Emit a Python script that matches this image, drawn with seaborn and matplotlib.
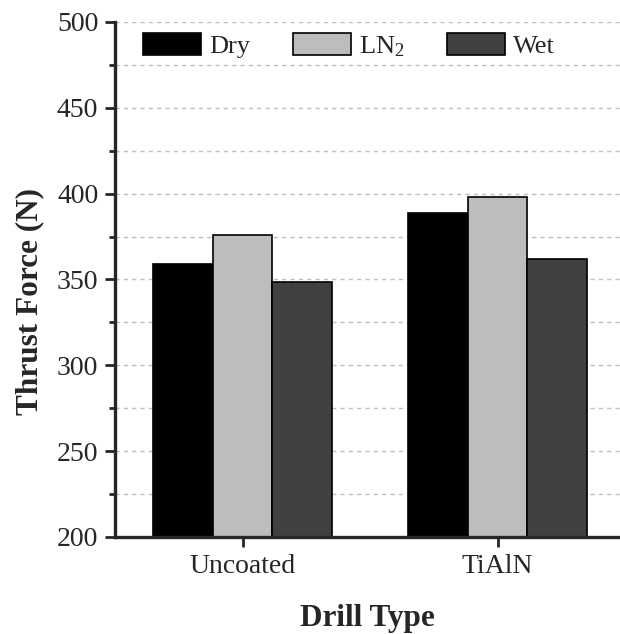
import numpy as np
import pandas as pd
import matplotlib
matplotlib.use('Agg')
import matplotlib.pyplot as plt
from matplotlib.ticker import MultipleLocator
import seaborn as sns

# Dados
drill_types = ['Uncoated', 'TiAlN']
conditions = ['Dry', 'LN$_2$', 'Wet']
dry = [358.8, 388.9]
ln2 = [375.7, 398.1]
wet = [348.8, 361.9]
cores = ['#000000', '#bdbdbd', '#404040']

# Formato longo para o seaborn
df = pd.DataFrame({
    'Drill Type': drill_types * 3,
    'Condition': [conditions[0]] * 2 + [conditions[1]] * 2 + [conditions[2]] * 2,
    'Thrust Force': dry + ln2 + wet,
})

sns.set_style('ticks')
plt.rcParams['font.family'] = ['Liberation Serif', 'DejaVu Serif']
plt.rcParams['mathtext.default'] = 'regular'

fig = plt.figure(figsize=(6.2, 6.34), dpi=100)
ax = fig.add_axes([0.1855, 0.153, 0.8145, 0.8123])

sns.barplot(data=df, x='Drill Type', y='Thrust Force', hue='Condition',
            hue_order=conditions, order=drill_types, palette=cores,
            saturation=1, width=0.7, edgecolor='black', linewidth=1.2,
            ax=ax)

ax.set_ylim(200, 500)
ax.set_xlim(-0.5, 1.48)
ax.yaxis.set_major_locator(MultipleLocator(50))
ax.yaxis.set_minor_locator(MultipleLocator(25))
ax.set_axisbelow(True)
ax.grid(axis='y', which='both', color='#bfbfbf', linestyle=(0, (3, 3)), linewidth=1)

# Eixos
sns.despine(ax=ax)
for lado in ['left', 'bottom']:
    ax.spines[lado].set_linewidth(2.4)
ax.tick_params(axis='both', which='major', length=7, width=2, direction='out',
               labelsize=20, pad=5)
ax.tick_params(axis='y', which='minor', length=4, width=2, direction='out')

ax.set_ylabel('Thrust Force (N)', fontsize=22.5, fontweight='bold')
ax.yaxis.set_label_coords(-0.14, 0.458)
ax.set_xlabel('Drill Type', fontsize=22.5, fontweight='bold', labelpad=18)

# Legenda
ax.legend(ncol=3, frameon=False, loc='upper left', bbox_to_anchor=(0.055, 0.978),
          fontsize=19, handlelength=2.2, handleheight=0.9, handletextpad=0.32,
          columnspacing=1.6, borderpad=0, borderaxespad=0)

fig.savefig('out.png', dpi=100)
